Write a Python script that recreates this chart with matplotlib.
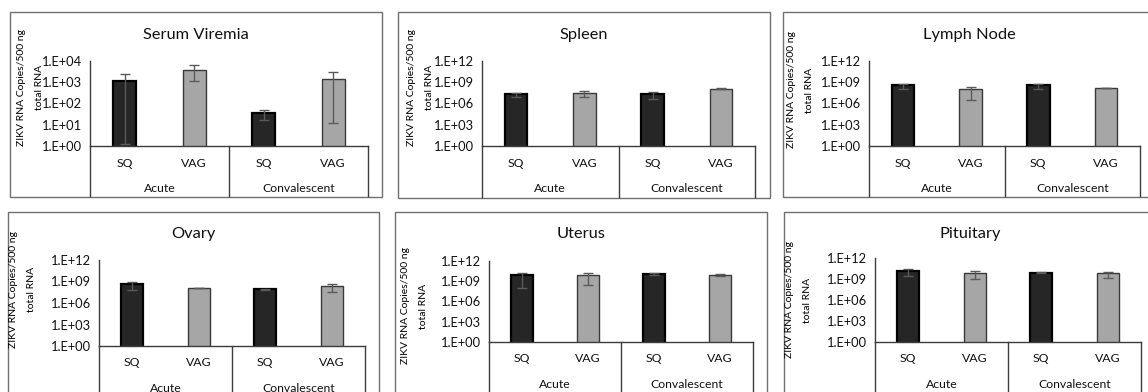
import math
import matplotlib
matplotlib.use("Agg")
import matplotlib.pyplot as plt
from matplotlib.lines import Line2D
from matplotlib.patches import Rectangle
from matplotlib.transforms import blended_transform_factory
from matplotlib.ticker import FixedLocator, FuncFormatter

plt.rcParams['font.family'] = ['Lato', 'DejaVu Sans']

# ---------------- data ----------------
tissues = ["Serum Viremia", "Spleen", "Lymph Node", "Ovary", "Uterus", "Pituitary"]
routes = ["SQ", "VAG", "SQ", "VAG"]
phases = ["Acute", "Convalescent"]
ylabel_lines = ["ZIKV RNA Copies/500 ng", "total RNA"]

serum_mean = [1200, 3900, 34, 1500]
serum_err = [1198.7, 2800, 18, 1488]
spleen_mean = [1.9e7, 3.1e7, 2.2e7, 1.3e8]
spleen_err = [1.15e7, 2.3e7, 1.8e7, 1.5e7]
lymph_mean = [3.8e8, 1.1e8, 3.8e8, 1.6e8]
lymph_err = [2.8e8, 1.07e8, 2.7e8, 2.0e7]
ovary_mean = [4.0e8, 1.35e8, 7.9e7, 2.2e8]
ovary_err = [3.4e8, 5.0e6, 1.5e7, 1.8e8]
uterus_mean = [8.0e9, 8.5e9, 1.4e10, 8.7e9]
uterus_err = [7.9e9, 8.2e9, 5.0e9, 2.0e9]
pituitary_mean = [1.4e10, 6.5e9, 8.0e9, 6.5e9]
pituitary_err = [1.1e10, 5.5e9, 1.0e9, 5.0e9]

serum_ticks = [1e0, 1e1, 1e2, 1e3, 1e4]
tissue_ticks = [1e0, 1e3, 1e6, 1e9, 1e12]

means = [serum_mean, spleen_mean, lymph_mean, ovary_mean, uterus_mean, pituitary_mean]
errs = [serum_err, spleen_err, lymph_err, ovary_err, uterus_err, pituitary_err]
ticks = [serum_ticks, tissue_ticks, tissue_ticks, tissue_ticks, tissue_ticks, tissue_ticks]

# ---------------- layout (pixels) ----------------
W, H = 1148, 392
# axis box (l, r, t, b), frame (l, r, t, b), title center, ylabel line x centers + y center
layout = [
    dict(ax=(90, 368, 61, 146), fr=(10, 382, 12, 197), title=(196, 35), yl=(22, 39, 87)),
    dict(ax=(482, 755, 61, 146), fr=(398, 770, 12, 198), title=(584, 35), yl=(412, 429, 87)),
    dict(ax=(869, 1140, 61, 146), fr=(783, 1155, 12, 197), title=(969, 35), yl=(792, 809, 90)),
    dict(ax=(99, 365, 260, 346), fr=(8, 379, 212, 400), title=(193, 234), yl=(14, 31, 289)),
    dict(ax=(489, 753, 261, 342), fr=(395, 767, 212, 400), title=(581, 234), yl=(406, 423, 306)),
    dict(ax=(875, 1141, 258, 342), fr=(784, 1156, 212, 400), title=(970, 234), yl=(790, 807, 300)),
]

def fx(x):
    return x / W

def fy(y):
    return 1 - y / H

fig = plt.figure(figsize=(W / 100, H / 100), dpi=100)
fig.patch.set_facecolor('white')

bar_colors = ['#262626', '#a6a6a6', '#262626', '#a6a6a6']
edge_colors = ['#000000', '#3a3a3a', '#000000', '#3a3a3a']
edge_widths = [1.6, 1.0, 1.6, 1.0]
xs = list(range(len(routes)))
line_col = '#3c3c3c'
txt_col = '#111111'

def fmt(v, pos):
    e = int(round(math.log10(v)))
    return "1.E+%02d" % e

for i, L in enumerate(layout):
    l, r, t, b = L['ax']
    ax = fig.add_axes([fx(l), fy(b), (r - l) / W, (b - t) / H])
    ax.set_yscale('log')
    ax.set_xlim(-0.5, 3.5)
    ax.set_ylim(ticks[i][0], ticks[i][-1])
    ax.bar(xs, means[i], width=0.33, color=bar_colors, edgecolor=edge_colors,
           linewidth=edge_widths, zorder=2)
    ax.errorbar(xs, means[i], yerr=errs[i], fmt='none', ecolor='#5a5a5a',
                elinewidth=1.0, capsize=3.5, capthick=1.0, zorder=3)
    ax.yaxis.set_major_locator(FixedLocator(ticks[i]))
    ax.yaxis.set_minor_locator(FixedLocator([]))
    ax.yaxis.set_major_formatter(FuncFormatter(fmt))
    ax.tick_params(axis='y', length=0, pad=6, labelsize=9.3, labelcolor=txt_col)
    ax.set_xticks([])
    for s in ['top', 'right']:
        ax.spines[s].set_visible(False)
    for s in ['left', 'bottom']:
        ax.spines[s].set_color(line_col)
        ax.spines[s].set_linewidth(1.0)
    ax.patch.set_alpha(0)

    # category box lines below the axis
    fl, fr_, ft, fb = L['fr']
    trans = blended_transform_factory(ax.transData, fig.transFigure)
    for xv in (-0.5, 1.5, 3.5):
        fig.add_artist(Line2D([xv, xv], [fy(b), fy(fb - 1)], transform=trans,
                              color=line_col, lw=1.0))
    for j, lab in enumerate(routes):
        fig.text(xs[j], fy(b + 17), lab, transform=trans, ha='center', va='center',
                 fontsize=8.8, color=txt_col)
    for k, ph in enumerate(phases):
        fig.text(0.5 + 2 * k, fy(b + 42), ph, transform=trans, ha='center', va='center',
                 fontsize=8.8, color=txt_col)

    # frame
    fig.add_artist(Rectangle((fx(fl), fy(fb)), (fr_ - fl) / W, (fb - ft) / H,
                             transform=fig.transFigure, fill=False,
                             edgecolor='#707070', lw=1.0))
    # title
    fig.text(fx(L['title'][0]), fy(L['title'][1]), tissues[i], ha='center', va='center',
             fontsize=11.8, color=txt_col)
    # y label (two lines)
    x1, x2, yc = L['yl']
    for xv, line in zip((x1, x2), ylabel_lines):
        fig.text(fx(xv), fy(yc), line, rotation=90, ha='center', va='center',
                 fontsize=7.5, color='#000000')

fig.savefig("out.png", dpi=100, facecolor='white')
